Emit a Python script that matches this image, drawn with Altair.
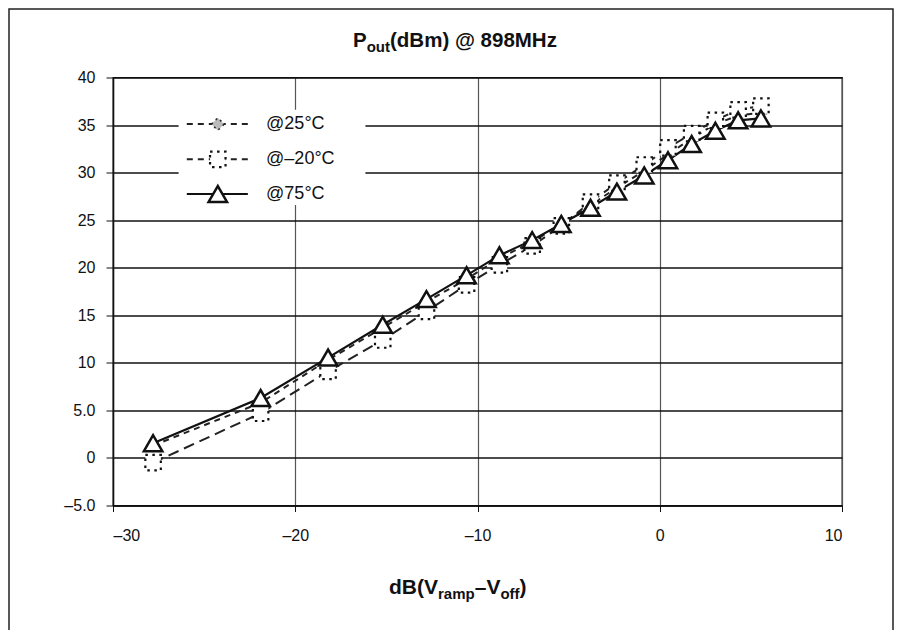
import altair as alt
import pandas as pd

# ---- data ----
x_vals = [-27.8, -21.9, -18.2, -15.2, -12.8, -10.6, -8.8, -7.0, -5.4, -3.8,
          -2.35, -0.85, 0.45, 1.75, 3.05, 4.3, 5.55]
p_25 = [1.3, 5.8, 10.3, 13.7, 16.4, 18.8, 21.0, 22.7, 24.6, 26.6,
        28.4, 30.2, 31.9, 33.6, 35.1, 36.0, 36.3]
p_m20 = [-0.5, 4.7, 9.1, 12.4, 15.4, 18.2, 20.3, 22.3, 24.4, 26.9,
         28.9, 30.8, 32.6, 34.1, 35.5, 36.6, 37.0]
p_75 = [1.55, 6.3, 10.55, 14.0, 16.7, 19.2, 21.3, 22.9, 24.6, 26.3,
        28.0, 29.7, 31.3, 33.0, 34.4, 35.5, 35.7]

series_names = ["@25°C", "@–20°C", "@75°C"]
x_ticks = [-30, -20, -10, 0, 10]
y_ticks = [-5, 0, 5, 10, 15, 20, 25, 30, 35, 40]

W, H = 729, 428
PAD_L, PAD_T, PAD_R, PAD_B = 105, 69.5, 52, 130
FONT = "Liberation Sans"

d25 = pd.DataFrame({"x": x_vals, "y": p_25})
dm20 = pd.DataFrame({"x": x_vals, "y": p_m20})
d75 = pd.DataFrame({"x": x_vals, "y": p_75})

xs = alt.Scale(domain=[-30, 10], nice=False, zero=False)
ys = alt.Scale(domain=[-5, 40], nice=False, zero=False)

X = alt.X("x:Q", scale=xs, title=None,
          axis=alt.Axis(values=x_ticks, grid=True, gridColor="#555", gridWidth=1.2,
                        labelExpr="replace(datum.label, '−', '–')",
                        labelFontSize=16, labelFont=FONT, labelColor="#111",
                        labelPadding=16, tickSize=6, tickColor="#111",
                        domainColor="#111", domainWidth=1.5))
Y = alt.Y("y:Q", scale=ys, title=None,
          axis=alt.Axis(values=y_ticks, grid=True, gridColor="#111", gridWidth=1.3,
                        labelExpr="datum.value == 5 ? '5.0' : datum.value == -5 ? '–5.0' : datum.label",
                        labelFontSize=16, labelFont=FONT, labelColor="#111",
                        labelPadding=11, tickSize=7, tickColor="#111",
                        domainColor="#111", domainWidth=1.5))

# legend box (white, hides gridlines) in data coords
leg_box = pd.DataFrame({"x": [-26.4], "x2": [-16.15], "y": [26.6], "y2": [36.6]})
box = alt.Chart(leg_box).mark_rect(fill="white", stroke=None).encode(
    x=X, x2="x2:Q", y=Y, y2="y2:Q")

line25 = alt.Chart(d25).mark_line(color="#222", strokeWidth=2, strokeDash=[6, 5]).encode(x=X, y=Y)
linem20 = alt.Chart(dm20).mark_line(color="#222", strokeWidth=2, strokeDash=[11, 6]).encode(x=X, y=Y)
line75 = alt.Chart(d75).mark_line(color="#111", strokeWidth=2.2).encode(x=X, y=Y)

pt25 = alt.Chart(d25).mark_point(shape="diamond", filled=True, fill="#bbb", stroke="#222",
                                 strokeWidth=1.5, strokeDash=[2, 4], size=160, opacity=1).encode(x=X, y=Y)
ptm20 = alt.Chart(dm20).mark_point(shape="square", fill="white", stroke="#111", strokeWidth=2.2,
                                   strokeDash=[2.5, 4.5], size=240, opacity=1).encode(x=X, y=Y)
pt75 = alt.Chart(d75).mark_point(shape="triangle-up", fill="white", stroke="#111", strokeWidth=2.5,
                                 size=340, opacity=1).encode(x=X, y=Y)

# legend entries (data coordinates inside the box)
leg_rows = [35.1, 31.4, 27.75]
leg = pd.DataFrame({"name": series_names, "y": leg_rows,
                    "x0": [-25.95] * 3, "x1": [-22.6] * 3, "xs": [-24.25] * 3, "xt": [-21.6] * 3})
leg_line_25 = alt.Chart(leg.iloc[[0]]).mark_rule(color="#222", strokeWidth=2, strokeDash=[6, 5]).encode(
    x=alt.X("x0:Q", scale=xs), x2="x1:Q", y=alt.Y("y:Q", scale=ys))
leg_line_m20 = alt.Chart(leg.iloc[[1]]).mark_rule(color="#222", strokeWidth=2, strokeDash=[6, 5]).encode(
    x=alt.X("x0:Q", scale=xs), x2="x1:Q", y=alt.Y("y:Q", scale=ys))
leg_line_75 = alt.Chart(leg.iloc[[2]]).mark_rule(color="#111", strokeWidth=2.2).encode(
    x=alt.X("x0:Q", scale=xs), x2="x1:Q", y=alt.Y("y:Q", scale=ys))
leg_pt_25 = alt.Chart(leg.iloc[[0]]).mark_point(shape="diamond", filled=True, fill="#bbb", stroke="#222",
                                                strokeWidth=1.5, strokeDash=[2, 4], size=160, opacity=1).encode(
    x=alt.X("xs:Q", scale=xs), y=alt.Y("y:Q", scale=ys))
leg_pt_m20 = alt.Chart(leg.iloc[[1]]).mark_point(shape="square", fill="white", stroke="#111", strokeWidth=2.2,
                                                 strokeDash=[2.5, 4.5], size=240, opacity=1).encode(
    x=alt.X("xs:Q", scale=xs), y=alt.Y("y:Q", scale=ys))
leg_pt_75 = alt.Chart(leg.iloc[[2]]).mark_point(shape="triangle-up", fill="white", stroke="#111",
                                                strokeWidth=2.5, size=340, opacity=1).encode(
    x=alt.X("xs:Q", scale=xs), y=alt.Y("y:Q", scale=ys))
leg_txt = alt.Chart(leg).mark_text(align="left", baseline="middle", font=FONT, fontSize=18,
                                   color="#111").encode(
    x=alt.X("xt:Q", scale=xs), y=alt.Y("y:Q", scale=ys), text="name:N")

one = pd.DataFrame({"a": [0]})


def txt(s, x, y, size, bold=True, align="left"):
    return alt.Chart(one).mark_text(text=s, align=align, baseline="alphabetic", font=FONT,
                                    fontSize=size, fontWeight="bold" if bold else "normal",
                                    color="#111").encode(x=alt.value(x), y=alt.value(y))


# chart title "P_out(dBm) @ 898MHz"
t_base = -31
title_layers = [
    txt("P", 240, t_base, 20.5),
    txt("out", 253.7, t_base + 5, 15),
    txt("(dBm) @ 898MHz", 277, t_base, 20.5),
]
# x axis title "dB(V_ramp–V_off)"
a_base = 516
xt_layers = [
    txt("dB(V", 276, a_base, 21),
    txt("ramp", 325, a_base + 5, 15),
    txt("–V", 361.7, a_base, 21),
    txt("off", 387.4, a_base + 5, 15),
    txt(")", 406.6, a_base, 21),
]

frame = alt.Chart(one).mark_rect(fill=None, stroke="#222", strokeWidth=1.5).encode(
    x=alt.value(-PAD_L + 1), x2=alt.value(W + PAD_R - 1),
    y=alt.value(-PAD_T + 1), y2=alt.value(H + PAD_B + 10))

chart = alt.layer(
    box, line25, linem20, line75, pt25, ptm20, pt75,
    leg_line_25, leg_line_m20, leg_line_75, leg_pt_25, leg_pt_m20, leg_pt_75, leg_txt,
    *title_layers, *xt_layers, frame
).properties(
    width=W, height=H,
    autosize=alt.AutoSizeParams(type="none"),
    padding={"left": PAD_L, "top": PAD_T, "right": PAD_R, "bottom": PAD_B},
    background="white",
).configure_view(stroke="#111", strokeWidth=1.3)

chart.save("out.html", embed_options={"renderer": "svg", "actions": False})
